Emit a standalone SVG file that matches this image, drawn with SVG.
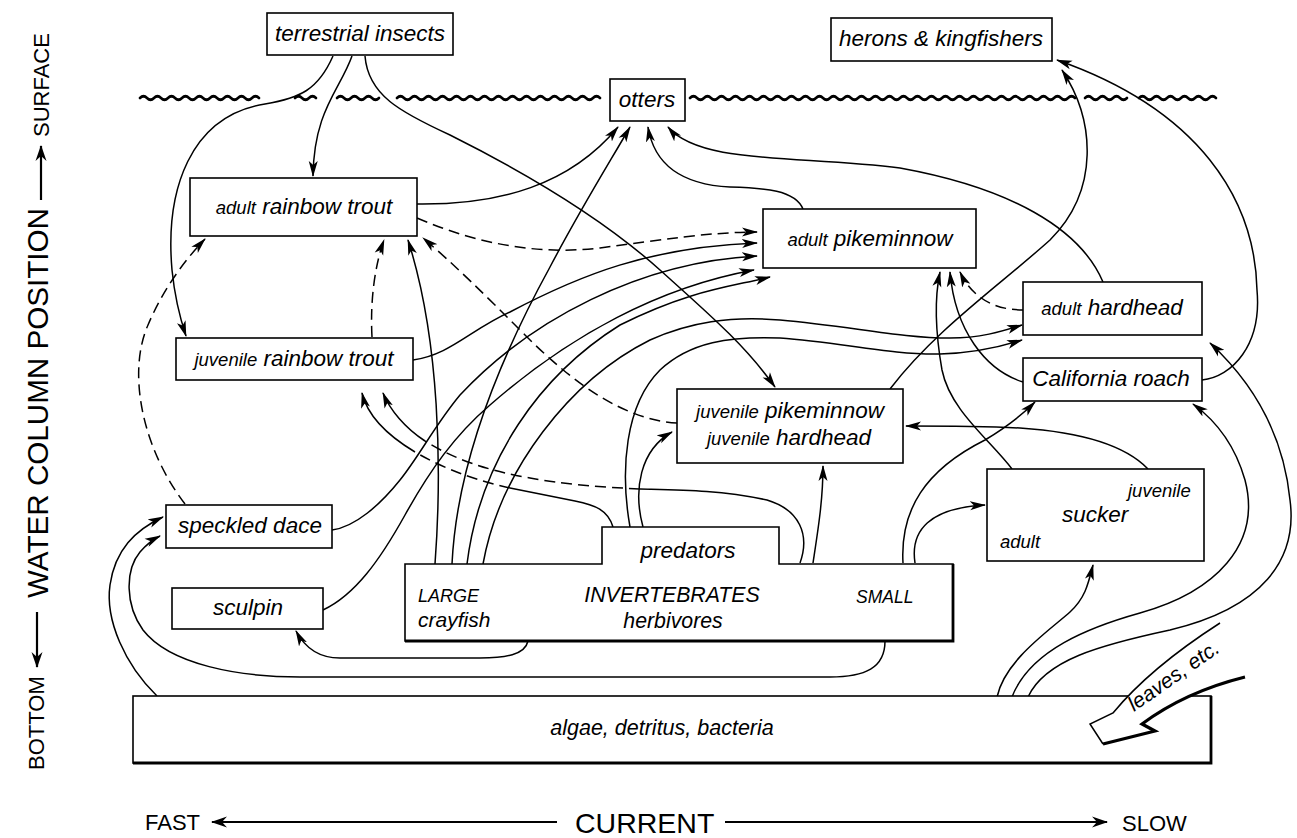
<svg xmlns="http://www.w3.org/2000/svg" width="1297" height="838" viewBox="0 0 1297 838">
<defs>
<style>
.box{fill:#fff;stroke:#000;stroke-width:1.6}
.edge{fill:none;stroke:#000;stroke-width:2.8}
.t{font-family:"Liberation Sans",Arial,sans-serif;font-style:italic;font-size:22.5px;fill:#000}
.s{font-size:18.5px}
.ax{font-family:"Liberation Sans",Arial,sans-serif;fill:#000}
.c{fill:none;stroke:#000;stroke-width:1.5}
.a{marker-end:url(#ah)}
.d{stroke-dasharray:11 6}
.w{fill:none;stroke:#000;stroke-width:2.6;stroke-linecap:round}
.axl{fill:none;stroke:#000;stroke-width:2.2}
</style>
<marker id="ah" viewBox="0 0 16 10" refX="15" refY="5" markerWidth="16" markerHeight="10" markerUnits="userSpaceOnUse" orient="auto">
<path d="M0,0.5 L16,5 L0,9.5 L4,5 z" fill="#000"/>
</marker>
<marker id="ah2" viewBox="0 0 16 12" refX="15" refY="6" markerWidth="16" markerHeight="12" markerUnits="userSpaceOnUse" orient="auto">
<path d="M0,0.5 L16,6 L0,11.5 L5,6 z" fill="#000"/>
</marker>
</defs>
<rect x="0" y="0" width="1297" height="838" fill="#fff"/>

<g id="water-surface">
<path class="w" d="M140,98 q3.5,-3.5 7,0 t7,0 t7,0 t7,0 t7,0 t7,0 t7,0 t7,0 t7,0 t7,0 t7,0 t7,0 t7,0 t7,0 t7,0 t7,0 t7,0"/>
<path class="w" d="M295,98 q3.5,-3.5 7,0 t7,0 t7,0"/>
<path class="w" d="M337,98 q3.5,-3.5 7,0 t7,0 t7,0 t7,0 t7,0 t7,0"/>
<path class="w" d="M397,98 q3.5,-3.5 7,0 t7,0 t7,0 t7,0 t7,0 t7,0 t7,0 t7,0 t7,0 t7,0 t7,0 t7,0 t7,0 t7,0 t7,0 t7,0 t7,0 t7,0 t7,0 t7,0 t7,0 t7,0 t7,0 t7,0 t7,0 t7,0 t7,0 t7,0 t7,0"/>
<path class="w" d="M690,98 q3.5,-3.5 7,0 t7,0 t7,0 t7,0 t7,0 t7,0 t7,0 t7,0 t7,0 t7,0 t7,0 t7,0 t7,0 t7,0 t7,0 t7,0 t7,0 t7,0 t7,0 t7,0 t7,0 t7,0 t7,0 t7,0 t7,0 t7,0 t7,0 t7,0 t7,0 t7,0 t7,0 t7,0 t7,0 t7,0 t7,0 t7,0 t7,0 t7,0 t7,0 t7,0 t7,0 t7,0 t7,0 t7,0 t7,0 t7,0 t7,0 t7,0 t7,0 t7,0 t7,0 t7,0 t7,0 t7,0 t7,0"/>
<path class="w" d="M1085,98 q3.5,-3.5 7,0 t7,0 t7,0 t7,0 t7,0 t7,0"/>
<path class="w" d="M1139,98 q3.5,-3.5 7,0 t7,0 t7,0 t7,0 t7,0 t7,0 t7,0 t7,0 t7,0 t7,0 t7,0"/>
</g>

<g id="connectors">
<path class="c a" d="M333,56 C318,90 300,98 265,104 C190,116 165,190 172,270 C175,300 180,318 186,336"/>
<path class="c a" d="M352,56 C340,90 314,110 313,176"/>
<path class="c a" d="M365,56 C368,95 400,112 450,135 C540,180 610,225 660,270 C710,315 745,345 775,387"/>
<path class="c a" d="M417,204 C500,205 570,185 618,127"/>
<path class="c a" d="M452,564 C456,480 488,380 550,267 C580,210 605,170 630,127"/>
<path class="c a" d="M803,209 C795,190 765,188 730,187 C690,185 655,170 648,127"/>
<path class="c a" d="M1103,282 C1080,228 1010,188 900,168 C800,155 700,165 668,127"/>
<path class="c a d" d="M417,218 C480,245 540,255 600,248 C660,240 710,232 757,232"/>
<path class="c a" d="M413,360 C450,355 470,330 510,312 C580,275 650,247 757,243"/>
<path class="c a" d="M332,530 C355,527 380,505 400,480 C420,455 435,425 460,395 C530,320 640,262 757,256"/>
<path class="c a" d="M323,610 C355,595 380,560 405,515 C430,470 455,435 490,405 C570,335 660,287 754,270"/>
<path class="c a" d="M467,564 C480,460 540,375 620,325 C690,290 730,287 770,277"/>
<path class="c a" d="M483,564 C500,470 570,380 650,340 C690,322 730,316 780,320 C850,326 900,338 950,338 C980,338 1000,332 1022,325"/>
<path class="c a" d="M630,527 C620,470 625,405 660,370 C690,342 730,336 780,338 C840,342 890,355 940,354 C975,353 1000,347 1022,340"/>
<path class="c a" d="M643,527 C633,490 640,450 672,432"/>
<path class="c a" d="M813,563 C818,530 823,500 823,466"/>
<path class="c" d="M800,563 C810,535 800,510 767,500 C720,490 680,490 640,489"/>
<path class="c d" d="M640,489 C600,487 560,484 530,478 C490,471 455,460 425,441"/>
<path class="c a" d="M425,441 C405,428 390,410 383,393"/>
<path class="c" d="M613,527 C608,510 595,505 575,501 C555,497 530,492 510,488"/>
<path class="c d" d="M510,488 C480,481 450,472 415,452"/>
<path class="c a" d="M415,452 C390,437 368,418 362,393"/>
<path class="c a d" d="M372,337 C370,300 375,265 384,240"/>
<path class="c a d" d="M185,504 C140,445 128,370 148,325 C162,292 182,263 205,239"/>
<path class="c a" d="M435,564 C442,470 440,340 408,240"/>
<path class="c a d" d="M677,423 C625,420 575,385 525,335 C485,295 455,265 423,238"/>
<path class="c a d" d="M1023,310 C995,310 972,298 960,272"/>
<path class="c a" d="M1023,382 C985,370 955,330 950,272"/>
<path class="c a" d="M1012,469 C990,440 950,410 942,370 C935,330 934,300 940,272"/>
<path class="c a" d="M890,389 C935,330 1000,285 1050,240 C1100,190 1095,120 1062,70"/>
<path class="c a" d="M1202,380 C1232,377 1262,345 1257,290 C1255,200 1200,110 1057,60"/>
<path class="c a" d="M1148,469 C1125,445 1080,432 1020,428 C980,426 940,426 906,426"/>
<path class="c a" d="M903,563 C900,510 925,470 985,440 C1005,428 1022,415 1035,402"/>
<path class="c a" d="M915,563 C910,530 930,508 985,505"/>
<path class="c a" d="M997,697 C1005,660 1050,630 1070,612 C1085,598 1088,585 1093,565"/>
<path class="c a" d="M1012,697 C1030,650 1090,627 1140,613 C1215,592 1262,545 1245,480 C1235,445 1215,420 1193,404"/>
<path class="c a" d="M1028,697 C1045,660 1100,645 1170,630 C1262,608 1298,560 1290,500 C1283,430 1250,380 1210,343"/>
<path class="c a" d="M157,696 C125,665 105,620 110,585 C115,550 135,530 163,517"/>
<path class="c a" d="M885,641 C885,668 865,677 830,677 L300,677 C240,677 170,665 143,630 C125,605 125,570 140,552 C146,545 152,540 160,536"/>
<path class="c a" d="M528,641 C525,655 505,658 480,658 L340,658 C318,658 305,648 296,631"/>
</g>

<g id="terrestrial-insects">
<rect class="box" x="267" y="13" width="186" height="42"/>
<text class="t" x="360" y="41" text-anchor="middle">terrestrial insects</text>
</g>
<g id="otters">
<rect class="box" x="610" y="79" width="75" height="42"/>
<text class="t" x="647" y="107" text-anchor="middle">otters</text>
</g>
<g id="herons-kingfishers">
<rect class="box" x="831" y="18" width="221" height="43"/>
<text class="t" x="941" y="46" text-anchor="middle">herons &amp; kingfishers</text>
</g>
<g id="adult-rainbow-trout">
<rect class="box" x="190" y="178" width="227" height="58"/>
<text class="t" x="304" y="214" text-anchor="middle"><tspan class="s">adult</tspan> rainbow trout</text>
</g>
<g id="adult-pikeminnow">
<rect class="box" x="763" y="209" width="213" height="59"/>
<text class="t" x="870" y="246" text-anchor="middle"><tspan class="s">adult</tspan> pikeminnow</text>
</g>
<g id="juvenile-rainbow-trout">
<rect class="box" x="176" y="338" width="237" height="42"/>
<text class="t" x="294" y="366" text-anchor="middle"><tspan class="s">juvenile</tspan> rainbow trout</text>
</g>
<g id="juvenile-pikeminnow-hardhead">
<rect class="box" x="677" y="389" width="226" height="74"/>
<text class="t" x="790" y="418" text-anchor="middle"><tspan class="s">juvenile</tspan> pikeminnow</text>
<text class="t" x="789" y="445" text-anchor="middle"><tspan class="s">juvenile</tspan> hardhead</text>
</g>
<g id="adult-hardhead">
<rect class="box" x="1023" y="282" width="179" height="53"/>
<text class="t" x="1112" y="315" text-anchor="middle"><tspan class="s">adult</tspan> hardhead</text>
</g>
<g id="california-roach">
<rect class="box" x="1023" y="358" width="179" height="43"/>
<text class="t" x="1111" y="386" text-anchor="middle">California roach</text>
</g>
<g id="sucker">
<rect class="box" x="987" y="469" width="217" height="92"/>
<text class="t s" x="1128" y="497">juvenile</text>
<text class="t" x="1062" y="522">sucker</text>
<text class="t s" x="1000" y="548">adult</text>
</g>
<g id="speckled-dace">
<rect class="box" x="166" y="505" width="166" height="43"/>
<text class="t" x="250" y="533" text-anchor="middle">speckled dace</text>
</g>
<g id="sculpin">
<rect class="box" x="172" y="588" width="151" height="41"/>
<text class="t" x="248" y="615" text-anchor="middle">sculpin</text>
</g>
<g id="invertebrates">
<path class="box" d="M405,564 L602,564 L602,527 L779,527 L779,564 L953,564 L953,641 L405,641 Z"/>
<path class="edge" d="M953,564 L953,641 L405,641"/>
<text class="t" x="688" y="558" text-anchor="middle">predators</text>
<text class="t" x="418" y="602" style="font-size:18px">LARGE</text>
<text class="t" x="418" y="627" style="font-size:21px">crayfish</text>
<text class="t" x="672" y="602" text-anchor="middle" style="font-size:21.3px">INVERTEBRATES</text>
<text class="t" x="673" y="628" text-anchor="middle" style="font-size:21.3px">herbivores</text>
<text class="t" x="856" y="603" style="font-size:17.5px">SMALL</text>
</g>
<g id="algae-detritus-bacteria">
<rect class="box" x="133" y="696" width="1078" height="67"/>
<path class="edge" d="M1211,696 L1211,763 L133,763"/>
<text class="t" x="662" y="735" text-anchor="middle" style="font-size:21.5px">algae, detritus, bacteria</text>
</g>
<g id="leaves">
<path d="M1220,623 Q1150,668 1113,713 L1090,724 L1103,744 L1155,731 L1142,724 Q1185,692 1245,677 Z" fill="#fff" stroke="none"/>
<path d="M1220,623 Q1150,668 1113,713 L1090,724 L1103,744" fill="none" stroke="#000" stroke-width="1.5"/>
<path d="M1103,744 L1155,731 L1142,724 Q1185,692 1245,677" fill="none" stroke="#000" stroke-width="3.2"/>
<text class="t" transform="translate(1134,712) rotate(-35)" style="font-size:21px">leaves, etc.</text>
</g>

<g id="axis-water-column">
<text class="ax" transform="translate(44,770) rotate(-90)" style="font-size:22px">BOTTOM</text>
<text class="ax" transform="translate(48,598) rotate(-90)" style="font-size:29px" textLength="390" lengthAdjust="spacingAndGlyphs">WATER COLUMN POSITION</text>
<text class="ax" transform="translate(49,137) rotate(-90)" style="font-size:22px">SURFACE</text>
<path class="axl" d="M37,612 L37,667" marker-end="url(#ah2)"/>
<path class="axl" d="M41,200 L41,146" marker-end="url(#ah2)"/>
</g>
<g id="axis-current">
<text class="ax" x="145" y="830" style="font-size:22px">FAST</text>
<text class="ax" x="575" y="833" style="font-size:28.5px">CURRENT</text>
<text class="ax" x="1122" y="831" style="font-size:22px">SLOW</text>
<path class="axl" d="M557,822 L212,822" marker-end="url(#ah2)"/>
<path class="axl" d="M725,822 L1107,822" marker-end="url(#ah2)"/>
</g>
</svg>
